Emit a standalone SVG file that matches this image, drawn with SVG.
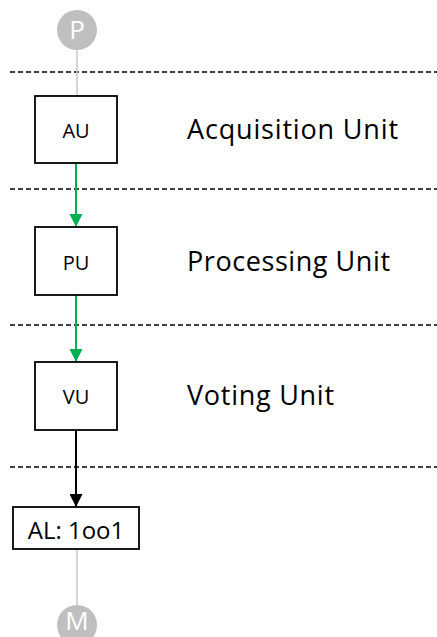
<svg xmlns="http://www.w3.org/2000/svg" width="437" height="637" viewBox="0 0 437 637">
  <style>
    .box { fill: #ffffff; stroke: #000000; stroke-width: 1.8; }
    .boxtxt { font-family: "Open Sans", "Liberation Sans", sans-serif; font-size: 20px; fill: #000000; text-anchor: middle; dominant-baseline: central; }
    .label { font-family: "Open Sans", "Liberation Sans", sans-serif; font-size: 27px; fill: #000000; }
    .sep { stroke: #000000; stroke-width: 1.5; stroke-dasharray: 5 3; }
    .term { fill: #bfbfbf; }
    .termtxt { font-family: "Open Sans", "Liberation Sans", sans-serif; font-size: 26px; fill: #ffffff; text-anchor: middle; dominant-baseline: central; }
    .gray { stroke: #c8c8c8; stroke-width: 1.5; fill: none; }
    .green { stroke: #00b050; stroke-width: 2; fill: none; }
    .black { stroke: #000000; stroke-width: 2; fill: none; }
  </style>
  <defs>
    <marker id="arrGreen" markerUnits="userSpaceOnUse" markerWidth="13" markerHeight="13" refX="13" refY="6.5" orient="auto">
      <path d="M0,0 L13,6.5 L0,13 Z" fill="#00b050"/>
    </marker>
    <marker id="arrBlack" markerUnits="userSpaceOnUse" markerWidth="13" markerHeight="13" refX="13" refY="6.5" orient="auto">
      <path d="M0,0 L13,6.5 L0,13 Z" fill="#000000"/>
    </marker>
  </defs>

  <!-- layer separators -->
  <g id="separators">
    <line class="sep" x1="10" y1="72" x2="437" y2="72"/>
    <line class="sep" x1="10" y1="189" x2="437" y2="189"/>
    <line class="sep" x1="10" y1="325" x2="437" y2="325"/>
    <line class="sep" x1="10" y1="467" x2="437" y2="467"/>
  </g>

  <!-- connectors -->
  <g id="connectors">
    <line class="gray" x1="77" y1="50" x2="77" y2="96"/>
    <line class="green" x1="76" y1="163" x2="76" y2="227" marker-end="url(#arrGreen)"/>
    <line class="green" x1="76" y1="295" x2="76" y2="362" marker-end="url(#arrGreen)"/>
    <line class="black" x1="76" y1="430" x2="76" y2="507" marker-end="url(#arrBlack)"/>
    <line class="gray" x1="77" y1="549" x2="77" y2="605"/>
  </g>

  <g id="P">
    <circle class="term" cx="77" cy="30" r="20"/>
    <text class="termtxt" x="77" y="29">P</text>
  </g>

  <g id="AU">
    <rect class="box" x="35" y="96" width="82" height="67"/>
    <text class="boxtxt" x="76" y="130">AU</text>
  </g>
  <text class="label" x="187" y="139" textLength="211" lengthAdjust="spacing">Acquisition Unit</text>

  <g id="PU">
    <rect class="box" x="35" y="227" width="82" height="68"/>
    <text class="boxtxt" x="76" y="262">PU</text>
  </g>
  <text class="label" x="187" y="271" textLength="203" lengthAdjust="spacing">Processing Unit</text>

  <g id="VU">
    <rect class="box" x="35" y="362" width="82" height="68"/>
    <text class="boxtxt" x="76" y="396">VU</text>
  </g>
  <text class="label" x="187" y="405" textLength="147" lengthAdjust="spacing">Voting Unit</text>

  <g id="AL">
    <rect class="box" x="13" y="507" width="126" height="42"/>
    <text class="boxtxt" x="76" y="529" style="font-size:24px">AL: 1oo1</text>
  </g>

  <g id="M">
    <circle class="term" cx="77" cy="625" r="20"/>
    <text class="termtxt" x="77" y="620">M</text>
  </g>
</svg>
